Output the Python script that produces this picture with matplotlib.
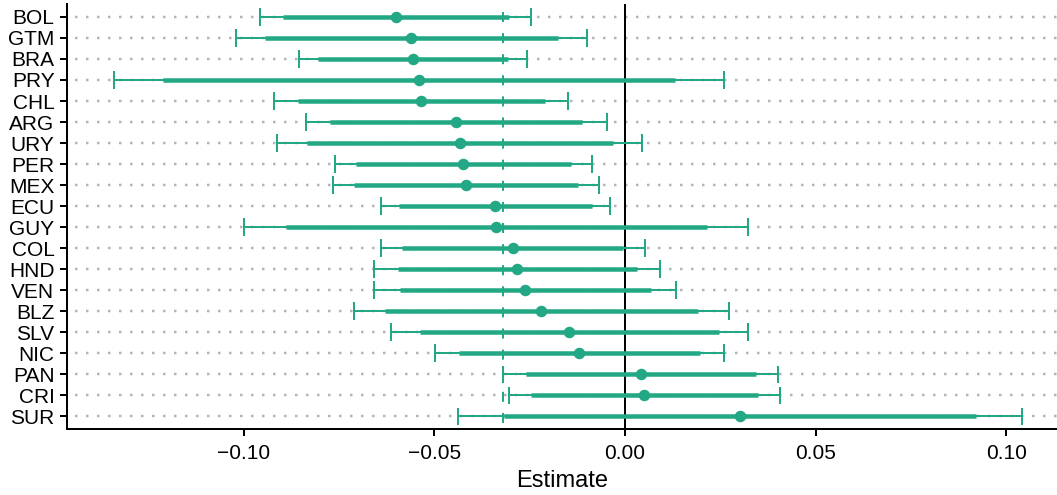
import numpy as np
import matplotlib
matplotlib.use('Agg')
import matplotlib.pyplot as plt

plt.rcParams['font.family'] = ['Liberation Sans', 'DejaVu Sans']

# country codes, top to bottom
countries = ['BOL', 'GTM', 'BRA', 'PRY', 'CHL', 'ARG', 'URY', 'PER', 'MEX', 'ECU',
             'GUY', 'COL', 'HND', 'VEN', 'BLZ', 'SLV', 'NIC', 'PAN', 'CRI', 'SUR']

estimate = [-0.0601, -0.0562, -0.0555, -0.0541, -0.0535, -0.0443, -0.0433, -0.0424, -0.0417, -0.0340,
            -0.0338, -0.0294, -0.0283, -0.0262, -0.0219, -0.0147, -0.0120, 0.0041, 0.0050, 0.0301]

# outer interval (thin line with caps)
ci_low = [-0.0957, -0.1021, -0.0854, -0.1341, -0.0920, -0.0837, -0.0912, -0.0760, -0.0765, -0.0640,
          -0.0998, -0.0640, -0.0657, -0.0657, -0.0710, -0.0613, -0.0497, -0.0320, -0.0304, -0.0439]
ci_high = [-0.0245, -0.0100, -0.0256, 0.0261, -0.0148, -0.0048, 0.0045, -0.0087, -0.0068, -0.0038,
           0.0323, 0.0053, 0.0091, 0.0133, 0.0273, 0.0323, 0.0260, 0.0402, 0.0406, 0.1041]

# inner interval (thick line)
in_low = [-0.0897, -0.0945, -0.0804, -0.1210, -0.0858, -0.0773, -0.0834, -0.0706, -0.0710, -0.0592,
          -0.0889, -0.0584, -0.0594, -0.0590, -0.0629, -0.0537, -0.0435, -0.0260, -0.0246, -0.0318]
in_high = [-0.0303, -0.0175, -0.0306, 0.0131, -0.0210, -0.0112, -0.0031, -0.0142, -0.0124, -0.0087,
           0.0214, -0.0005, 0.0031, 0.0068, 0.0192, 0.0246, 0.0198, 0.0343, 0.0349, 0.0920]

mean_line = -0.032

teal = '#22A884'
px = 72 / 100  # one pixel in points

fig = plt.figure(figsize=(10.57, 4.95), dpi=100)
ax = fig.add_axes([67 / 1057, 1 - 429 / 495, 1 - 67 / 1057, (429 - 4.3) / 495])

y = np.arange(len(countries))

# dotted row guides
for yi in y:
    ax.axhline(yi, color='#B4B4B4', lw=2.5 * px, zorder=0,
               linestyle=(3 / 2.5, (2.5 / 2.5, 8.5 / 2.5)))

ax.axvline(0, color='black', lw=2 * px, zorder=1)
# dashes centred on the rows, drawn from the bottom up
ax.axvline(mean_line, color=teal, lw=2 * px, zorder=1,
           linestyle=(15 / 2, (10 / 2, 11.1 / 2)))

ax.hlines(y, ci_low, ci_high, color=teal, lw=2 * px, zorder=2)
ax.hlines(y, in_low, in_high, color=teal, lw=4.5 * px, zorder=3)
for lo, hi, yi in zip(ci_low, ci_high, y):
    ax.plot([lo, lo], [yi - 0.42, yi + 0.42], color=teal, lw=2 * px, zorder=2,
            solid_capstyle='butt')
    ax.plot([hi, hi], [yi - 0.42, yi + 0.42], color=teal, lw=2 * px, zorder=2,
            solid_capstyle='butt')
ax.plot(estimate, y, 'o', color=teal, markersize=11.5 * px, zorder=4, markeredgewidth=0)

ax.set_xlim(-0.1463, 0.1133)
ax.set_ylim(len(countries) - 0.4, -0.6)
ax.set_yticks(y)
ax.set_yticklabels(countries)
ax.set_xticks([-0.10, -0.05, 0.00, 0.05, 0.10])
ax.set_xticklabels(['\u22120.10', '\u22120.05', '0.00', '0.05', '0.10'])

for s in ['top', 'right']:
    ax.spines[s].set_visible(False)
for s in ['left', 'bottom']:
    ax.spines[s].set_linewidth(2 * px)
ax.tick_params(axis='both', length=5, width=2 * px, labelsize=15, colors='black')
ax.tick_params(axis='y', pad=4)
ax.tick_params(axis='x', pad=6)
ax.set_xlabel('Estimate', fontsize=17, labelpad=5)

fig.savefig('out.png', dpi=100)
